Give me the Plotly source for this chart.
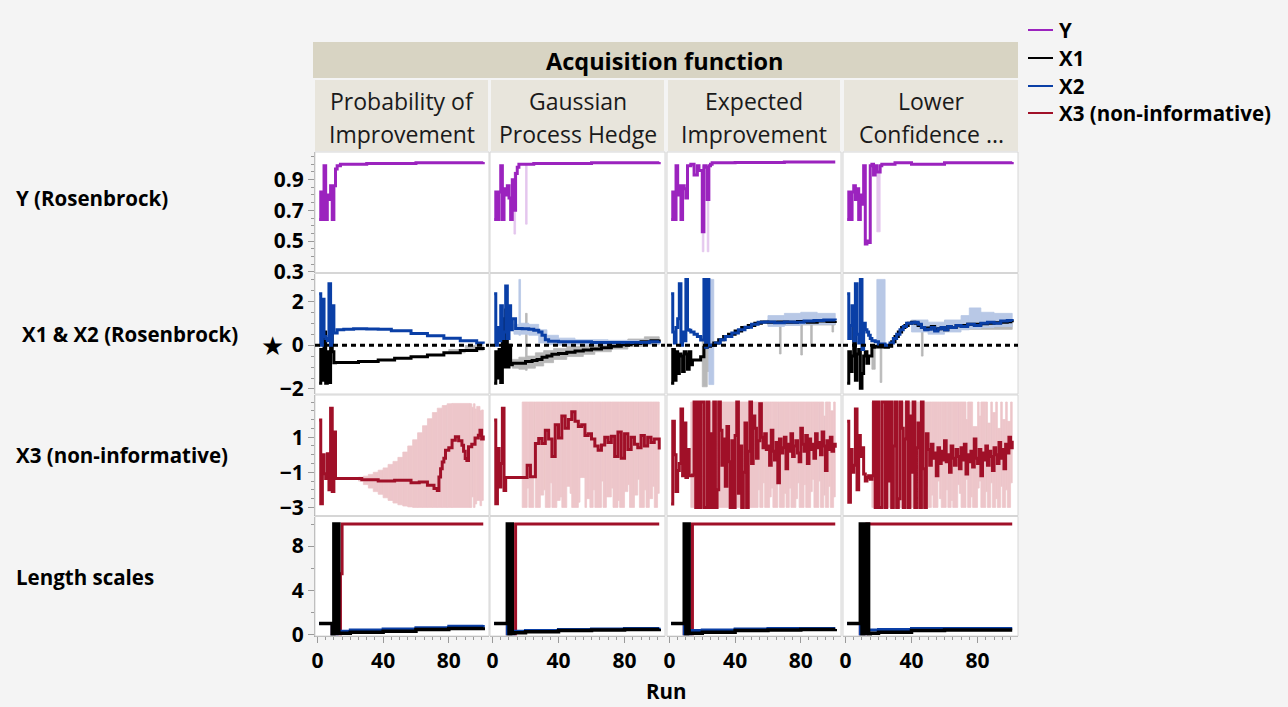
import plotly.graph_objects as go
from plotly.subplots import make_subplots

FIG_W, FIG_H = 1288, 707
FONT = "Open Sans"

# ---------------------------------------------------------------- labels
acq_titles = [("Probability of", "Improvement"), ("Gaussian", "Process Hedge"),
              ("Expected", "Improvement"), ("Lower", "Confidence ...")]
row_titles = ["Y (Rosenbrock)", "X1 & X2 (Rosenbrock)", "X3 (non-informative)", "Length scales"]
legend_names = ["Y", "X1", "X2", "X3 (non-informative)"]
x_tick_vals = [0, 40, 80]
y_tick_vals = [[0.3, 0.5, 0.7, 0.9], [-2, 0, 2], [-3, -1, 1], [0, 4, 8]]

# ---------------------------------------------------------------- Y (Rosenbrock)
# step series: run at which each step starts, and its value (one list per acquisition function)
y_runs = [
    [1, 2, 3, 4, 5, 6, 7, 8, 9, 10, 11, 12, 14, 30, 60, 101],
    [1, 2, 3, 4, 5, 6, 7, 8, 9, 10, 11, 12, 13, 14, 15, 16, 25, 60, 101],
    [1, 2, 3, 4, 5, 6, 7, 8, 9, 10, 11, 13, 15, 17, 18, 20, 21, 22, 23, 24, 25, 26, 40, 70, 101],
    [1, 2, 3, 4, 5, 6, 7, 8, 9, 10, 11, 12, 13, 14, 15, 16, 17, 18, 19, 21, 22, 30, 40, 60, 101],
]
y_vals = [
    [0.64, 0.82, 0.64, 0.99, 0.64, 0.80, 0.77, 0.86, 0.64, 0.86, 0.97, 0.99, 1.0, 1.005, 1.01, 1.015],
    [0.64, 0.82, 0.64, 0.82, 0.99, 0.64, 0.84, 0.80, 0.86, 0.78, 0.64, 0.90, 0.70, 0.94, 0.98, 1.0,
     1.005, 1.01, 1.015],
    [0.64, 0.82, 0.64, 0.99, 0.80, 0.86, 0.64, 0.86, 0.84, 0.78, 0.99, 1.0, 0.93, 0.99, 0.96, 0.56,
     0.99, 0.98, 0.77, 0.99, 1.0, 1.01, 1.012, 1.015, 1.015],
    [0.64, 0.82, 0.64, 0.82, 0.86, 0.77, 0.84, 0.64, 0.80, 0.74, 0.99, 0.48, 0.50, 0.49, 0.99, 1.0,
     0.93, 0.99, 0.95, 0.99, 1.0, 1.01, 1.0, 1.01, 1.015],
]
# uncertainty band segments: start run, end run, low, high
y_band_start = [[], [13, 20], [20, 23], [19]]
y_band_end = [[], [14, 21], [21, 24], [21]]
y_band_lo = [[], [0.545, 0.61], [0.43, 0.43], [0.56]]
y_band_hi = [[], [0.95, 1.0], [0.99, 0.99], [0.99]]

# ---------------------------------------------------------------- X1 & X2 (Rosenbrock)
x1_runs = [
    [1, 2, 3, 4, 5, 6, 7, 8, 9, 10, 11, 16, 25, 37, 47, 57, 67, 77, 87, 97, 101],
    [1, 2, 3, 4, 5, 6, 7, 8, 9, 10, 11, 12, 15, 20, 24, 27, 30, 33, 36, 40, 45, 50, 55, 60, 66, 72,
     78, 84, 90, 96, 101],
    [1, 2, 3, 4, 5, 6, 7, 8, 9, 10, 11, 12, 13, 14, 17, 19, 21, 23, 25, 27, 30, 33, 36, 40, 44, 48,
     52, 56, 60, 66, 72, 78, 84, 90, 96, 101],
    [1, 2, 3, 4, 5, 6, 7, 8, 9, 10, 11, 12, 13, 14, 16, 18, 20, 24, 26, 28, 30, 32, 34, 36, 38, 40,
     42, 44, 46, 48, 50, 52, 54, 56, 58, 60, 62, 64, 67, 70, 74, 78, 82, 86, 90, 94, 98, 101],
]
x1_vals = [
    [-1.74, -0.2, -1.6, 0.6, -1.74, -0.3, -1.7, 1.74, -0.3, -0.8, -0.79, -0.79, -0.75, -0.68, -0.6,
     -0.53, -0.45, -0.35, -0.25, -0.15, -0.08],
    [-1.74, -0.3, -1.5, -0.2, -1.7, 1.2, -1.0, 1.6, -1.0, 0.0, -0.9, -0.83, -0.83, -0.75, -0.7, -0.65,
     -0.55, -0.5, -0.42, -0.38, -0.33, -0.27, -0.22, -0.18, -0.12, -0.05, 0.02, 0.08, 0.15, 0.2, 0.26],
    [-1.74, -0.2, -1.6, -0.3, -1.3, -0.4, -0.5, -1.2, -0.3, -0.4, -1.1, -0.3, -0.9, -0.68, -0.68,
     -0.53, -0.1, -0.05, 0.0, 0.1, 0.25, 0.4, 0.5, 0.65, 0.8, 0.9, 1.0, 1.06, 1.05, 1.06, 1.05, 1.08,
     1.05, 1.1, 1.08, 1.1],
    [-1.74, -0.3, -1.2, -0.5, 1.0, -1.6, -0.4, -0.2, -1.97, -1.3, -0.5, -0.3, -0.83, -0.5, -0.1, -0.05,
     -0.08, -0.1, -0.05, 0.15, 0.4, 0.6, 0.8, 0.9, 1.0, 1.05, 1.0, 0.9, 0.8, 0.75, 0.78, 0.85, 0.7,
     0.75, 0.8, 0.7, 0.85, 0.8, 0.88, 0.9, 0.95, 0.95, 0.98, 1.0, 1.02, 1.05, 1.07, 1.05],
]
x2_runs = [
    [1, 2, 3, 4, 5, 6, 7, 8, 9, 10, 12, 16, 22, 30, 37, 45, 57, 67, 77, 87, 97, 101],
    [1, 2, 3, 4, 5, 6, 7, 8, 9, 10, 11, 12, 14, 18, 22, 25, 28, 30, 32, 34, 40, 60, 80, 95, 101],
    [1, 2, 3, 4, 5, 6, 7, 8, 9, 10, 11, 12, 13, 15, 17, 19, 21, 22, 23, 24, 26, 28, 31, 34, 38, 42,
     46, 50, 54, 58, 64, 70, 76, 82, 88, 94, 101],
    [1, 2, 3, 4, 5, 6, 7, 8, 9, 10, 11, 12, 13, 14, 15, 16, 18, 20, 24, 27, 29, 31, 33, 35, 37, 40,
     42, 44, 46, 48, 50, 52, 54, 56, 58, 60, 62, 64, 67, 70, 74, 78, 82, 86, 90, 94, 98, 101],
]
x2_vals = [
    [2.35, 0.0, 2.1, 0.4, 0.3, 0.2, 2.8, 0.0, 1.8, 0.55, 0.7, 0.73, 0.75, 0.74, 0.72, 0.66, 0.53,
     0.43, 0.32, 0.2, 0.1, 0.06],
    [2.35, 0.0, 0.8, 0.2, 1.8, 0.3, 0.6, 2.7, 0.3, 1.8, 0.7, 1.2, 0.76, 0.75, 0.72, 0.68, 0.6, 0.45,
     0.25, 0.18, 0.15, 0.12, 0.12, 0.15, 0.18],
    [2.35, 0.6, 0.1, 0.8, 1.2, 2.8, 0.0, 0.6, 0.2, 3.0, 0.7, 0.68, 0.6, 0.5, 0.4, 0.23, 3.0, -0.1,
     3.0, 0.0, 0.0, 0.1, 0.25, 0.4, 0.55, 0.7, 0.82, 0.95, 1.05, 1.06, 1.02, 1.06, 1.04, 1.1, 1.12,
     1.15, 1.13],
    [2.35, 0.3, 0.9, 1.8, 0.2, 2.8, 0.5, 0.1, 3.0, -0.2, 1.0, 0.7, 0.6, 0.45, 0.3, 0.2, 0.15, 0.05,
     0.0, 0.1, 0.3, 0.5, 0.7, 0.85, 1.0, 1.02, 1.05, 0.95, 0.8, 0.7, 0.72, 0.8, 0.65, 0.75, 0.8, 0.7,
     0.85, 0.8, 0.9, 0.85, 0.95, 0.9, 1.0, 1.05, 1.0, 1.1, 1.12, 1.1],
]
x1_band_start = [[80, 90], [12, 16, 20, 21, 26, 31, 37, 45, 55, 62, 72, 82, 92],
                 [20, 23, 60, 67, 80, 86, 99], [16, 21, 46, 60]]
x1_band_end = [[90, 101], [16, 20, 21, 26, 31, 37, 45, 55, 62, 72, 82, 92, 101],
               [23, 24, 101, 68, 81, 87, 100], [18, 22, 47, 101]]
x1_band_lo = [[-0.35, -0.25], [-1.05, -1.1, -1.15, -1.05, -0.95, -0.8, -0.65, -0.52, -0.42, -0.3, -0.18,
                               -0.06, 0.02],
              [-1.9, -1.2, 0.92, -0.4, -0.45, -0.05, 0.6], [-1.1, -1.7, -0.5, 0.72]]
x1_band_hi = [[-0.2, -0.02], [-0.65, -0.55, 1.45, -0.5, -0.35, -0.25, -0.15, -0.05, 0.0, 0.1, 0.18,
                              0.28, 0.38],
              [0.4, 0.5, 1.18, 1.1, 1.1, 1.1, 1.2], [0.0, 0.4, 0.9, 1.12]]
x2_band_start = [[], [13, 16, 17, 22, 28, 33, 40, 50, 70], [24, 60, 70, 80, 90],
                 [19, 40, 50, 60, 70, 75, 82, 90]]
x2_band_end = [[], [16, 17, 22, 28, 33, 40, 50, 70, 101], [27, 70, 80, 90, 101],
               [24, 50, 60, 70, 75, 82, 90, 101]]
x2_band_lo = [[], [0.5, 0.45, 0.5, 0.45, 0.1, 0.02, 0.0, 0.02, 0.05], [-1.8, 0.85, 0.9, 0.95, 0.95],
              [-0.1, 0.6, 0.5, 0.6, 0.7, 0.75, 0.8, 0.85]]
x2_band_hi = [[], [0.95, 3.0, 1.0, 0.95, 0.7, 0.45, 0.32, 0.25, 0.22], [3.0, 1.35, 1.45, 1.5, 1.45],
              [3.0, 1.15, 1.05, 1.15, 1.35, 1.7, 1.5, 1.45]]

# ---------------------------------------------------------------- X3 (non-informative)
x3_pi_runs = [1, 2, 3, 4, 5, 6, 7, 8, 9, 10, 11, 27, 37, 47, 57, 62, 67, 71, 73, 74, 75, 76, 77, 78,
              80, 82, 84, 86, 88, 89, 90, 91, 92, 94, 96, 98, 99, 100, 101]
x3_pi_vals = [1.97, -2.79, 0.0, -1.08, -1.36, 0.06, -2.0, 2.64, -2.1, 1.3, -1.36, -1.42, -1.5, -1.46,
              -1.6, -1.55, -1.74, -1.93, -2.03, -1.27, -0.8, -0.41, -0.2, 0.26, 0.4, 0.83, 1.02, 0.8,
              0.54, 0.2, -0.22, -0.33, 0.45, 0.6, 0.95, 1.11, 1.4, 0.9, 1.1]
x3_gph_runs = [1, 2, 3, 4, 5, 6, 7, 8, 21, 23, 26, 28, 30, 32, 34, 36, 38, 40, 42, 44, 46, 48, 50, 52,
               54, 56, 58, 60, 62, 64, 66, 68, 70, 72, 74, 76, 78, 80, 82, 84, 86, 88, 90, 92, 94, 96,
               98, 101]
x3_gph_vals = [1.97, -2.79, 0.35, -1.84, -0.5, 2.64, -2.03, -1.3, -0.6, -1.25, 0.64, 0.93, 0.64, 1.4,
               0.9, -0.1, 1.7, 0.95, 2.2, 1.5, 2.0, 2.45, 1.9, 1.6, 1.7, 1.1, 1.2, 0.9, 0.5, 0.26, 0.55,
               1.0, 0.7, 1.05, -0.1, 1.3, -0.2, 1.2, 0.3, 1.0, 0.6, 0.4, 1.1, 0.5, 1.0, 0.7, 0.9, 0.3]
# one value per run (runs 1..101)
x3_ei_vals = [-2.8, 1.9, 0.0, -2.1, -0.9, -0.5, 2.6, -1.2, 1.8, -1.3, 0.3, -1.2, -1.2, -1.15,
              3.0, -3.0, 3.0, -3.0, 3.0, 3.0, -3.0, -3.0, 3.0, -3.0, 1.2, -3.0, 3.0, -3.0, -2.0, 3.0,
              1.4, -0.6, 0.9, -1.8, 1.6, -0.4,
              -3.0, 0.8, -3.0, 1.1, 3.0, -2.2, 0.5, -3.0, -1.0, 1.8, -3.0, 0.2, 3.0, -0.5, 2.2,
              1.5, -0.2, 0.8, 2.9, 1.0, 0.4, 1.2, 0.3, 0.5, -0.6, 1.4, 0.2, -0.3, 0.7, -1.6, 0.9, 0.1,
              0.4, 1.0, -0.8, 0.6, 0.2, 1.2, -0.1, 0.5, 0.8, 0.1, -0.4, 1.5, 0.6, 0.2, 1.1, -0.5, 0.9,
              0.3, 0.6, -0.2, 1.2, 0.4, 0.7, 0.0, 1.3, 0.5, -0.9, 0.8, 0.3, 1.0, 0.2, 0.6, 0.4]
x3_lcb_vals = [1.9, -2.7, 0.3, -1.0, -0.6, 2.6, -2.0, 1.1, -0.1, 0.4, -1.1, -1.5, -1.3, -1.2, -1.4, -1.2,
               3.0, -3.0, 3.0, -3.0, -3.0, 3.0, 3.0, -3.0, 3.0, -1.5, 3.0, -3.0, 0.5, 3.0, -3.0, -2.5,
               3.0, 1.5, -3.0, 0.9, 3.0, -3.0, 2.2, -1.0, 3.0, -3.0, 0.4, 1.8, -3.0, 3.0, -0.8, -3.0, 1.2,
               0.3, -0.6, 0.6, -0.2, 0.1, -1.2, 0.4, -0.5, 0.2, -0.3, 0.8, -0.4, 0.0, -1.0, 0.5, -0.2,
               -0.6, 0.3, -0.1, -0.8, 0.4, -0.3, 0.6, -1.1, 0.0, -0.4, 0.2, -0.7, 0.9, -0.2, -0.5, 0.3,
               -1.2, 0.1, -0.3, 0.5, -0.6, 0.2, -0.1, -0.9, 0.4, 0.0, -0.5, 0.7, -0.2, 0.3, -0.8, 0.6,
               0.1, 1.0, 0.4, 0.8]
x3_runs = [x3_pi_runs, x3_gph_runs,
           list(range(1, len(x3_ei_vals) + 1)), list(range(1, len(x3_lcb_vals) + 1))]
x3_vals = [x3_pi_vals, x3_gph_vals, x3_ei_vals, x3_lcb_vals]

x3_band_start = [
    [25, 28, 31, 34, 37, 40, 43, 46, 49, 52, 55, 58, 61, 64, 67, 70, 73, 76, 79, 82, 93, 94, 95, 96,
     97, 99, 100],
    [18, 21, 22, 25, 26, 29, 31, 32, 35, 36, 39, 41, 42, 45, 47, 48, 52, 53, 56, 57, 59, 61, 62, 66,
     67, 69, 72, 73, 76, 77, 80, 82, 83, 86, 88, 89, 92, 93, 95, 97, 98, 100],
    [13, 54, 55, 57, 58, 61, 62, 63, 66, 67, 70, 71, 73, 74, 77, 78, 79, 82, 83, 86, 87, 88, 91, 92,
     94, 95, 97, 98, 100],
    [16, 49, 50, 52, 53, 56, 57, 58, 61, 62, 64, 65, 68, 69, 70, 73, 74, 76, 77, 80, 81, 82, 85, 86,
     88, 89, 91, 92, 94, 95, 97, 98, 100],
]
x3_band_lo = [
    [-1.5, -1.7, -1.9, -2.1, -2.25, -2.45, -2.6, -2.75, -2.85, -2.92, -2.97, -3.0, -3.0, -3.0, -3.0,
     -3.0, -3.0, -3.0, -3.0, -3.0, -3.0, -2.4, -3.0, -2.8, -2.6, -2.9, -2.6],
    [-3.0, -1.9, -3.0, -1.0, -3.0, -2.3, -2.0, -3.0, -1.6, -3.0, -2.6, -2.4, -3.0, -1.8, -2.2, -3.0,
     -2.7, -1.3, -3.0, -2.5, -3.0, -2.0, -3.0, -1.5, -3.0, -2.4, -1.9, -3.0, -2.6, -3.0, -2.1, -1.7,
     -3.0, -2.3, -1.4, -3.0, -2.0, -3.0, -2.5, -1.8, -3.0, -2.2],
    [-3.0, -2.0, -3.0, -1.6, -3.0, -2.4, -1.9, -3.0, -1.3, -3.0, -2.2, -3.0, -1.9, -3.0, -2.5, -1.6,
     -3.0, -1.7, -3.0, -2.1, -1.4, -3.0, -1.5, -3.0, -2.3, -3.0, -1.8, -3.0, -2.4],
    [-3.0, -1.8, -3.0, -2.3, -3.0, -1.5, -2.5, -3.0, -2.0, -3.0, -2.6, -3.0, -1.7, -2.2, -3.0, -1.4,
     -3.0, -2.4, -3.0, -1.9, -1.5, -3.0, -2.1, -3.0, -1.6, -3.0, -2.5, -3.0, -1.8, -3.0, -2.0, -3.0,
     -1.6],
]
x3_band_hi = [
    [-1.28, -1.22, -1.12, -1.0, -0.88, -0.75, -0.55, -0.38, -0.15, 0.15, 0.5, 0.85, 1.25, 1.65, 2.05,
     2.4, 2.65, 2.8, 2.9, 2.92, 2.9, 2.7, 2.9, 2.6, 2.75, 2.5, 2.55],
    [3.0] * 42,
    [3.0, 3.0, 3.0, 3.0, 3.0, 3.0, 3.0, 3.0, 3.0, 3.0, 3.0, 3.0, 3.0, 3.0, 3.0, 3.0, 3.0, 3.0, 3.0,
     3.0, 3.0, 3.0, 3.0, 3.0, 2.2, 3.0, 3.0, 2.5, 3.0],
    [3.0, 3.0, 3.0, 3.0, 3.0, 3.0, 3.0, 3.0, 3.0, 3.0, 3.0, 3.0, 3.0, 3.0, 3.0, 2.0, 3.0, 3.0, 1.6,
     3.0, 2.2, 3.0, 3.0, 1.8, 3.0, 2.4, 3.0, 1.5, 3.0, 2.0, 3.0, 1.9, 3.0],
]
# each band segment runs until the next one starts; the last one until run 101
x3_band_end = [s[1:] + [101] for s in x3_band_start]

# ---------------------------------------------------------------- Length scales
ls1_runs = [[1, 9, 10, 11, 12, 13, 20, 40, 60, 80, 101],
            [1, 9, 10, 11, 12, 13, 20, 40, 60, 80, 101],
            [1, 9, 10, 11, 12, 13, 20, 40, 60, 80, 101],
            [1, 9, 10, 11, 12, 13, 14, 15, 20, 40, 60, 80, 101]]
ls1_vals = [[1.0, 0.05, 10.0, 0.1, 10.0, 0.1, 0.2, 0.3, 0.45, 0.55, 0.65],
            [1.0, 10.0, 0.05, 10.0, 0.1, 0.15, 0.25, 0.35, 0.4, 0.45, 0.5],
            [1.0, 10.0, 0.05, 10.0, 0.1, 0.1, 0.2, 0.35, 0.4, 0.45, 0.5],
            [1.0, 10.0, 0.05, 10.0, 0.1, 10.0, 0.05, 0.1, 0.2, 0.35, 0.4, 0.4, 0.4]]
ls2_runs = [[1, 9, 12, 13, 20, 40, 60, 80, 101],
            [1, 9, 13, 20, 40, 60, 80, 101],
            [1, 9, 13, 20, 40, 60, 80, 101],
            [1, 9, 12, 13, 20, 40, 60, 80, 101]]
ls2_vals = [[1.0, 0.05, 0.4, 0.3, 0.4, 0.5, 0.6, 0.75, 0.85],
            [1.0, 0.05, 0.3, 0.35, 0.45, 0.5, 0.55, 0.6],
            [1.0, 0.05, 0.35, 0.4, 0.5, 0.55, 0.55, 0.55],
            [1.0, 0.05, 6.4, 0.4, 0.45, 0.55, 0.55, 0.55, 0.55]]
ls3_runs = [[1, 9, 14, 15, 101], [1, 9, 14, 101], [1, 9, 14, 101], [1, 9, 13, 101]]
ls3_vals = [[1.0, 0.05, 5.5, 10.0, 10.0], [1.0, 0.05, 10.0, 10.0],
            [1.0, 0.05, 10.0, 10.0], [1.0, 0.05, 10.0, 10.0]]

# ---------------------------------------------------------------- styling
PURPLE, PURPLE_BAND = "#9b23be", "#e4c6ee"
BLACK, GREY_BAND = "#000000", "#b8b8b8"
BLUE, BLUE_BAND = "#0a3fa6", "#b8c8e6"
RED, RED_BAND = "#a01028", "#edc6ca"
PAGE_BG = "#f4f4f4"

col_px = [(315, 489), (490, 665), (667, 841), (843, 1018)]
row_px = [(152, 272.5), (273.5, 394), (395, 515.5), (516.5, 636)]
x_range = [-1.5, 104.5]
y_ranges = [[0.295, 1.08], [-2.23, 3.27], [-3.46, 3.4], [-0.14, 10.68]]
y_minor = [0.05, 0.5, 0.5, 2]


def fx(p):
    return p / FIG_W


def fy(p):
    return 1 - p / FIG_H


fig = make_subplots(rows=4, cols=4)


def add_step(runs, vals, color, width, r, c):
    fig.add_trace(go.Scatter(x=runs, y=vals, mode="lines", line=dict(color=color, width=width, shape="hv"),
                             hoverinfo="skip", showlegend=False), row=r + 1, col=c + 1)


def add_band(starts, ends, lo, hi, color, r, c):
    assert len(starts) == len(ends) == len(lo) == len(hi)
    if not starts:
        return
    fig.add_trace(go.Bar(x=[(s + e) / 2 for s, e in zip(starts, ends)],
                         width=[e - s for s, e in zip(starts, ends)],
                         base=lo, y=[h - l for l, h in zip(lo, hi)],
                         marker=dict(color=color, line=dict(width=0.8, color=color)),
                         hoverinfo="skip", showlegend=False), row=r + 1, col=c + 1)


for c in range(4):
    assert len(y_runs[c]) == len(y_vals[c])
    assert len(x1_runs[c]) == len(x1_vals[c]) and len(x2_runs[c]) == len(x2_vals[c])
    assert len(x3_runs[c]) == len(x3_vals[c])
    assert len(ls1_runs[c]) == len(ls1_vals[c]) and len(ls2_runs[c]) == len(ls2_vals[c])
    assert len(ls3_runs[c]) == len(ls3_vals[c])
    # Y
    add_band(y_band_start[c], y_band_end[c], y_band_lo[c], y_band_hi[c], PURPLE_BAND, 0, c)
    add_step(y_runs[c], y_vals[c], PURPLE, 3, 0, c)
    # X1 & X2
    add_band(x1_band_start[c], x1_band_end[c], x1_band_lo[c], x1_band_hi[c], GREY_BAND, 1, c)
    add_band(x2_band_start[c], x2_band_end[c], x2_band_lo[c], x2_band_hi[c], BLUE_BAND, 1, c)
    add_step(x1_runs[c], x1_vals[c], BLACK, 3, 1, c)
    add_step(x2_runs[c], x2_vals[c], BLUE, 3, 1, c)
    # X3
    add_band(x3_band_start[c], x3_band_end[c], x3_band_lo[c], x3_band_hi[c], RED_BAND, 2, c)
    add_step(x3_runs[c], x3_vals[c], RED, 3, 2, c)
    # length scales
    add_step(ls3_runs[c], ls3_vals[c], RED, 3, 3, c)
    add_step(ls2_runs[c], ls2_vals[c], BLUE, 3, 3, c)
    add_step(ls1_runs[c], ls1_vals[c], BLACK, 3.5, 3, c)

tick_font = dict(family=FONT, size=21, color="black", weight="bold")
shapes = []
for r in range(4):
    for c in range(4):
        i = r * 4 + c + 1
        sx = "" if i == 1 else str(i)
        fig.update_xaxes(row=r + 1, col=c + 1,
                         domain=[fx(col_px[c][0]), fx(col_px[c][1])], range=x_range,
                         showgrid=False, zeroline=False, automargin=False, fixedrange=True,
                         showline=(r == 3), linecolor="#a8a8a8", linewidth=1,
                         tickmode="array", tickvals=x_tick_vals,
                         showticklabels=(r == 3), ticks="outside" if r == 3 else "",
                         ticklen=6, tickcolor="#9a9a9a", tickfont=tick_font,
                         minor=dict(tickmode="linear", tick0=0, dtick=5, ticklen=3, tickcolor="#9a9a9a",
                                    ticks="outside" if r == 3 else "", showgrid=False))
        fig.update_yaxes(row=r + 1, col=c + 1,
                         domain=[fy(row_px[r][1]), fy(row_px[r][0])], range=y_ranges[r],
                         showgrid=False, zeroline=False, automargin=False, fixedrange=True,
                         showline=(c == 0), linecolor="#a8a8a8", linewidth=1,
                         tickmode="array", tickvals=y_tick_vals[r],
                         showticklabels=(c == 0), ticks="outside" if c == 0 else "",
                         ticklen=6, tickcolor="#9a9a9a", tickfont=tick_font,
                         minor=dict(tickmode="linear", tick0=0, dtick=y_minor[r], ticklen=3,
                                    tickcolor="#9a9a9a", ticks="outside" if c == 0 else "",
                                    showgrid=False))
        # panel frame
        shapes.append(dict(type="rect", xref="paper", yref="paper",
                           x0=fx(col_px[c][0]), x1=fx(col_px[c][1]),
                           y0=fy(row_px[r][1]), y1=fy(row_px[r][0]),
                           line=dict(color="#d6d6d6", width=1), layer="above"))
        if r == 1:
            shapes.append(dict(type="line", xref=f"x{sx} domain", yref=f"y{sx}",
                               x0=0, x1=1, y0=0, y1=0, layer="above",
                               line=dict(color="black", width=3, dash="5px,4px")))

# header blocks
shapes.append(dict(type="rect", xref="paper", yref="paper", x0=fx(313), x1=fx(1018), y0=fy(78), y1=fy(42),
                   fillcolor="#d8d4c3", line=dict(width=0), layer="below"))
head_px = [(315, 488), (491, 664), (668, 840), (844, 1018)]
for (a, b) in head_px:
    shapes.append(dict(type="rect", xref="paper", yref="paper", x0=fx(a), x1=fx(b), y0=fy(151), y1=fy(80),
                       fillcolor="#e8e5dc", line=dict(width=0), layer="below"))

# legend swatches
legend_colors = [PURPLE, BLACK, BLUE, RED]
legend_y = [30, 58, 86, 113]
for col, yy in zip(legend_colors, legend_y):
    shapes.append(dict(type="line", xref="paper", yref="paper", x0=fx(1028), x1=fx(1053),
                       y0=fy(yy), y1=fy(yy), line=dict(color=col, width=2)))

annotations = []


def label(text, x, y, size, bold=False, anchor="center", color="black", family=FONT):
    annotations.append(dict(text=f"<b>{text}</b>" if bold else text, x=fx(x), y=fy(y),
                            xref="paper", yref="paper", showarrow=False, xanchor=anchor, yanchor="middle",
                            font=dict(family=family, size=size, color=color)))


label("Acquisition function", 665.5, 61, 23.5, bold=True)
for (a, b), (l1, l2) in zip(head_px, acq_titles):
    label(l1, (a + b) / 2, 101, 23, color="#1a1a1a")
    label(l2, (a + b) / 2, 134, 23, color="#1a1a1a")

row_label_pos = [(14, 198), (20, 334), (14, 455), (14, 577)]
for (x, y), t in zip(row_label_pos, row_titles):
    label(t, x, y, 20.5, bold=True, anchor="left")

for name, yy in zip(legend_names, legend_y):
    label(name, 1057, yy, 20.5, bold=True, anchor="left")

label("★", 272, 346, 26, family="DejaVu Sans")
label("Run", 666, 691, 20.5, bold=True)

fig.update_layout(width=FIG_W, height=FIG_H, margin=dict(l=0, r=0, t=0, b=0),
                  paper_bgcolor=PAGE_BG, plot_bgcolor="white", barmode="overlay",
                  showlegend=False, shapes=shapes, annotations=annotations,
                  font=dict(family=FONT))

fig.write_html("out.html")
